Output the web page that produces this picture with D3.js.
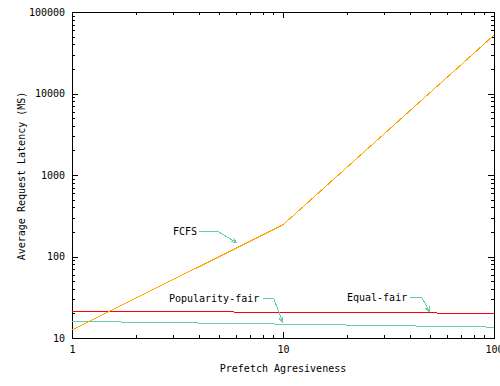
<!DOCTYPE html>
<html>
<head>
  <meta charset="utf-8">
  <script src="https://d3js.org/d3.v7.min.js"></script>
  <style>
    body { margin: 0; background: #fff; }
    text { font-family: "DejaVu Sans Mono", monospace; font-size: 10px; fill: #000; }
    .axis path { display: none; }
    .axis line { stroke: #000; shape-rendering: crispEdges; }
    .frame { fill: none; stroke: #000; stroke-width: 1; shape-rendering: crispEdges; }
    .series { fill: none; stroke-width: 1; shape-rendering: crispEdges; }
    .arrow { fill: none; stroke: #66cdaa; stroke-width: 1; shape-rendering: crispEdges; }
  </style>
</head>
<body>
<div id="chart"></div>
<script>
  // data
  var aggressiveness = [1, 10, 100];
  var fcfs = [12.5, 245, 52000];
  var equalFair = [21.3, 20.7, 20.1];
  var popularityFair = [16.0, 14.8, 13.6];

  var xTicks = [1, 10, 100];
  var yTicks = [10, 100, 1000, 10000, 100000];

  // annotation labels, anchored in data space, arrow paths in data space
  var labels = [
    { text: "FCFS", x: 3.01, y: 200, arrow: [[4.0, 200], [4.97, 200], [6.05, 147]] },
    { text: "Popularity-fair", x: 2.88, y: 30.1, arrow: [[8.04, 30.1], [9.06, 30.1], [10, 15.3]] },
    { text: "Equal-fair", x: 20.1, y: 31, arrow: [[40, 31], [45.6, 31], [49.7, 20.8]] }
  ];

  var W = 500, H = 386;
  var margin = { top: 12, right: 6, bottom: 48, left: 72 };
  var width = W - margin.left - margin.right,
      height = H - margin.top - margin.bottom;

  var svg = d3.select("#chart").append("svg")
    .attr("width", W).attr("height", H);

  var g = svg.append("g")
    .attr("transform", "translate(" + margin.left + "," + margin.top + ")");

  var x = d3.scaleLog().domain([1, 100]).range([0, width]);
  var y = d3.scaleLog().domain([10, 100000]).range([height, 0]);

  function minors(lo, hi) {
    var out = [];
    for (var d = lo; d < hi; d *= 10)
      for (var k = 2; k <= 9; k++) out.push(d * k);
    return out;
  }
  var xMinor = minors(1, 100), yMinor = minors(10, 100000);

  // major + minor ticks, all inward and mirrored
  g.append("g").attr("class", "axis").attr("transform", "translate(0," + height + ")")
    .call(d3.axisBottom(x).tickValues(xTicks).tickFormat(d3.format("d"))
      .tickSizeInner(-6).tickSizeOuter(0).tickPadding(8));
  g.append("g").attr("class", "axis").attr("transform", "translate(0," + height + ")")
    .call(d3.axisBottom(x).tickValues(xMinor).tickFormat("").tickSizeInner(-3).tickSizeOuter(0));
  g.append("g").attr("class", "axis")
    .call(d3.axisTop(x).tickValues(xTicks).tickFormat("").tickSizeInner(-6).tickSizeOuter(0));
  g.append("g").attr("class", "axis")
    .call(d3.axisTop(x).tickValues(xMinor).tickFormat("").tickSizeInner(-3).tickSizeOuter(0));

  g.append("g").attr("class", "axis")
    .call(d3.axisLeft(y).tickValues(yTicks).tickFormat(d3.format("d"))
      .tickSizeInner(-6).tickSizeOuter(0).tickPadding(7));
  g.append("g").attr("class", "axis")
    .call(d3.axisLeft(y).tickValues(yMinor).tickFormat("").tickSizeInner(-3).tickSizeOuter(0));
  g.append("g").attr("class", "axis").attr("transform", "translate(" + width + ",0)")
    .call(d3.axisRight(y).tickValues(yTicks).tickFormat("").tickSizeInner(-6).tickSizeOuter(0));
  g.append("g").attr("class", "axis").attr("transform", "translate(" + width + ",0)")
    .call(d3.axisRight(y).tickValues(yMinor).tickFormat("").tickSizeInner(-3).tickSizeOuter(0));

  g.selectAll(".axis text").style("font-family", "DejaVu Sans Mono").style("font-size", "10px");

  g.append("rect").attr("class", "frame")
    .attr("x", 0.5).attr("y", 0.5).attr("width", width).attr("height", height);

  var line = d3.line()
    .x(function(d) { return x(d[0]); })
    .y(function(d) { return y(d[1]); });

  var series = [
    { values: equalFair, color: "#ff0000" },
    { values: popularityFair, color: "#66cdaa" },
    { values: fcfs, color: "#ffa500" }
  ];
  series.forEach(function(s) {
    g.append("path").attr("class", "series")
      .attr("stroke", s.color)
      .attr("d", line(aggressiveness.map(function(a, i) { return [a, s.values[i]]; })));
  });

  // labels with arrows
  labels.forEach(function(l) {
    g.append("text").attr("x", x(l.x)).attr("y", y(l.y)).attr("dy", "0.35em").text(l.text);
    g.append("path").attr("class", "arrow").attr("d", line(l.arrow));
    var p1 = l.arrow[l.arrow.length - 2], p2 = l.arrow[l.arrow.length - 1];
    var x1 = x(p1[0]), y1 = y(p1[1]), x2 = x(p2[0]), y2 = y(p2[1]);
    var ang = Math.atan2(y2 - y1, x2 - x1), len = 6, spread = 0.35;
    var head = [
      [x2 - len * Math.cos(ang - spread), y2 - len * Math.sin(ang - spread)],
      [x2, y2],
      [x2 - len * Math.cos(ang + spread), y2 - len * Math.sin(ang + spread)]
    ];
    g.append("path").attr("class", "arrow").attr("d", d3.line()(head));
  });

  // axis titles
  svg.append("text")
    .attr("x", margin.left + width / 2).attr("y", 368).attr("dy", "0.35em")
    .attr("text-anchor", "middle").text("Prefetch Agresiveness");
  svg.append("text")
    .attr("transform", "translate(21," + (margin.top + height / 2 + 1) + ") rotate(-90)")
    .attr("dy", "0.35em").attr("text-anchor", "middle")
    .text("Average Request Latency (MS)");
</script>
</body>
</html>
